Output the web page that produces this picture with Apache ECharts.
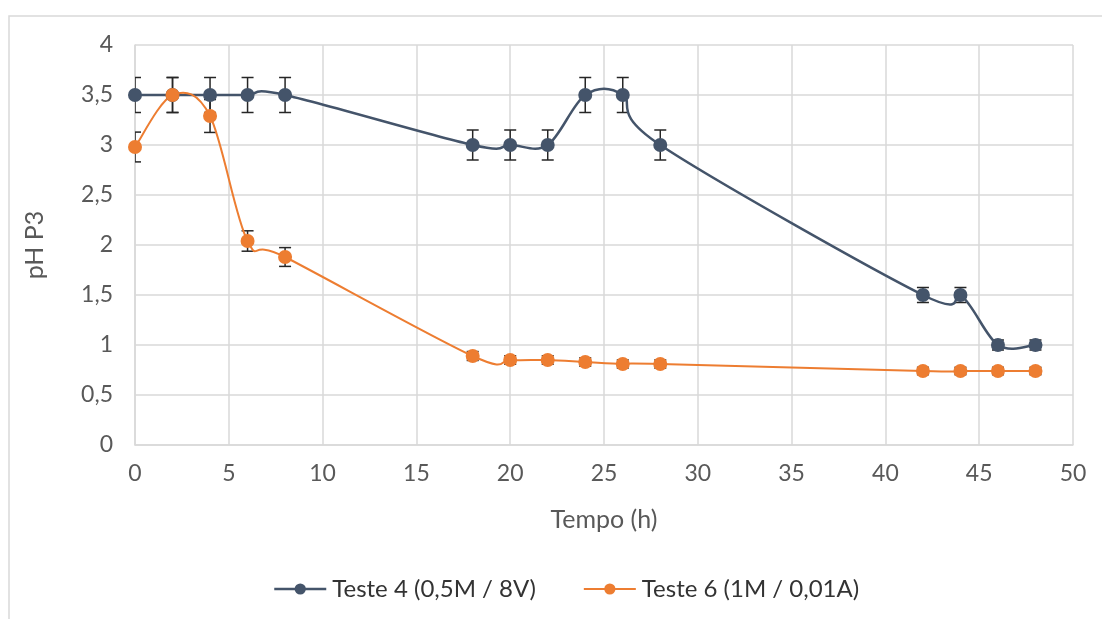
<!DOCTYPE html>
<html>
<head>
<meta charset="utf-8">
<title>pH P3</title>
<script src="https://cdn.jsdelivr.net/npm/echarts@6/dist/echarts.min.js"></script>
<style>
  html, body { margin: 0; padding: 0; background: #ffffff; }
  #chart { width: 1102px; height: 619px; }
</style>
</head>
<body>
<div id="chart"></div>
<script>
// Sampling times (h)
const tempo = [0, 2, 4, 6, 8, 18, 20, 22, 24, 26, 28, 42, 44, 46, 48];
// pH readings for each test
const teste4 = [3.5, 3.5, 3.5, 3.5, 3.5, 3.0, 3.0, 3.0, 3.5, 3.5, 3.0, 1.5, 1.5, 1.0, 1.0];
const teste6 = [2.98, 3.5, 3.29, 2.04, 1.88, 0.89, 0.85, 0.85, 0.83, 0.81, 0.81, 0.74, 0.74, 0.74, 0.74];
// Relative error shown by the error bars
const erroRelativo = 0.05;
// Axis ticks
const xTicks = { min: 0, max: 50, interval: 5 };
const yTicks = { min: 0, max: 4, interval: 0.5 };

const FONT = 'Lato, "Open Sans", sans-serif';
const AZUL = '#44546a';
const LARANJA = '#ed7d31';
const NOME4 = 'Teste 4 (0,5M / 8V)';
const NOME6 = 'Teste 6 (1M / 0,01A)';

function pontos(ys) {
  return tempo.map((t, i) => [t, ys[i]]);
}
function barrasErro(ys) {
  return tempo.map((t, i) => [t, ys[i] * (1 - erroRelativo), ys[i] * (1 + erroRelativo)]);
}

function desenhaErro(params, api) {
  const x = api.value(0);
  const lo = api.coord([x, api.value(1)]);
  const hi = api.coord([x, api.value(2)]);
  const half = 6;
  const style = { stroke: '#262626', lineWidth: 1.5, fill: null };
  return {
    type: 'group',
    children: [
      { type: 'line', shape: { x1: hi[0], y1: hi[1], x2: lo[0], y2: lo[1] }, style },
      { type: 'line', shape: { x1: hi[0] - half, y1: hi[1], x2: hi[0] + half, y2: hi[1] }, style },
      { type: 'line', shape: { x1: lo[0] - half, y1: lo[1], x2: lo[0] + half, y2: lo[1] }, style }
    ]
  };
}

// Smoothed curve (Catmull-Rom style cubic segments) through the data points,
// positioned through the chart's own coordinate system.
function curva(ys, cor, largura) {
  return function (params, api) {
    if (params.dataIndex !== 0) return null;
    const p = tempo.map((t, i) => api.coord([t, ys[i]]));
    const n = p.length;
    let d = 'M' + p[0][0] + ' ' + p[0][1];
    for (let i = 0; i < n - 1; i++) {
      const p0 = p[Math.max(i - 1, 0)];
      const p1 = p[i];
      const p2 = p[i + 1];
      const p3 = p[Math.min(i + 2, n - 1)];
      const c1 = [p1[0] + (p2[0] - p0[0]) / 6, p1[1] + (p2[1] - p0[1]) / 6];
      const c2 = [p2[0] - (p3[0] - p1[0]) / 6, p2[1] - (p3[1] - p1[1]) / 6];
      d += ' C' + c1[0] + ' ' + c1[1] + ' ' + c2[0] + ' ' + c2[1] + ' ' + p2[0] + ' ' + p2[1];
    }
    return {
      type: 'path',
      shape: { pathData: d },
      style: { stroke: cor, lineWidth: largura, fill: null, lineJoin: 'round' }
    };
  };
}

const chart = echarts.init(document.getElementById('chart'), null, { renderer: 'canvas' });

chart.setOption({
  animation: false,
  backgroundColor: '#ffffff',
  textStyle: { fontFamily: FONT },
  graphic: [{
    type: 'rect',
    shape: { x: 9, y: 16, width: 1200, height: 700 },
    style: { fill: null, stroke: '#d9d9d9', lineWidth: 1.5 },
    silent: true,
    z: -10
  }],
  grid: { left: 135, right: 29, top: 45, bottom: 174, containLabel: false },
  legend: {
    left: 268,
    top: 572,
    itemWidth: 52,
    itemHeight: 14,
    itemGap: 47,
    textStyle: { fontFamily: FONT, fontSize: 24, color: '#333333', padding: [0, 0, 0, 1] },
    data: [
      { name: NOME4, lineStyle: { color: AZUL, width: 2.5, opacity: 1 } },
      { name: NOME6, lineStyle: { color: LARANJA, width: 2, opacity: 1 } }
    ]
  },
  xAxis: {
    type: 'value',
    min: xTicks.min, max: xTicks.max, interval: xTicks.interval,
    name: 'Tempo (h)',
    nameLocation: 'middle',
    nameGap: 62,
    nameTextStyle: { fontFamily: FONT, fontSize: 25, color: '#595959' },
    axisLine: { show: true, onZero: false, lineStyle: { color: '#d9d9d9', width: 1.5 } },
    axisTick: { show: false },
    axisLabel: { margin: 17, fontSize: 23, color: '#595959', fontFamily: FONT },
    splitLine: { show: true, lineStyle: { color: '#d9d9d9', width: 1.5 } }
  },
  yAxis: {
    type: 'value',
    min: yTicks.min, max: yTicks.max, interval: yTicks.interval,
    name: 'pH P3',
    nameLocation: 'middle',
    nameGap: 88,
    nameTextStyle: { fontFamily: FONT, fontSize: 25, color: '#595959' },
    axisLine: { show: true, lineStyle: { color: '#d9d9d9', width: 1.5 } },
    axisTick: { show: false },
    axisLabel: {
      margin: 22, fontSize: 23, color: '#595959', fontFamily: FONT,
      formatter: v => String(v).replace('.', ',')
    },
    splitLine: { show: true, lineStyle: { color: '#d9d9d9', width: 1.5 } }
  },
  series: [
    {
      name: 'erro4', type: 'custom', renderItem: desenhaErro,
      data: barrasErro(teste4), clip: true, z: 1, silent: true
    },
    {
      name: 'erro6', type: 'custom', renderItem: desenhaErro,
      data: barrasErro(teste6), clip: true, z: 1, silent: true
    },
    {
      name: 'curva4', type: 'custom', renderItem: curva(teste4, AZUL, 2.5),
      data: pontos(teste4), clip: false, z: 2, silent: true
    },
    {
      name: 'curva6', type: 'custom', renderItem: curva(teste6, LARANJA, 2),
      data: pontos(teste6), clip: false, z: 3, silent: true
    },
    {
      name: NOME4, type: 'line', data: pontos(teste4),
      symbol: 'circle', symbolSize: 14, clip: false,
      lineStyle: { color: AZUL, width: 2.5, opacity: 0 },
      itemStyle: { color: AZUL },
      z: 4
    },
    {
      name: NOME6, type: 'line', data: pontos(teste6),
      symbol: 'circle', symbolSize: 14, clip: false,
      lineStyle: { color: LARANJA, width: 2, opacity: 0 },
      itemStyle: { color: LARANJA },
      z: 5
    }
  ]
});
</script>
</body>
</html>
